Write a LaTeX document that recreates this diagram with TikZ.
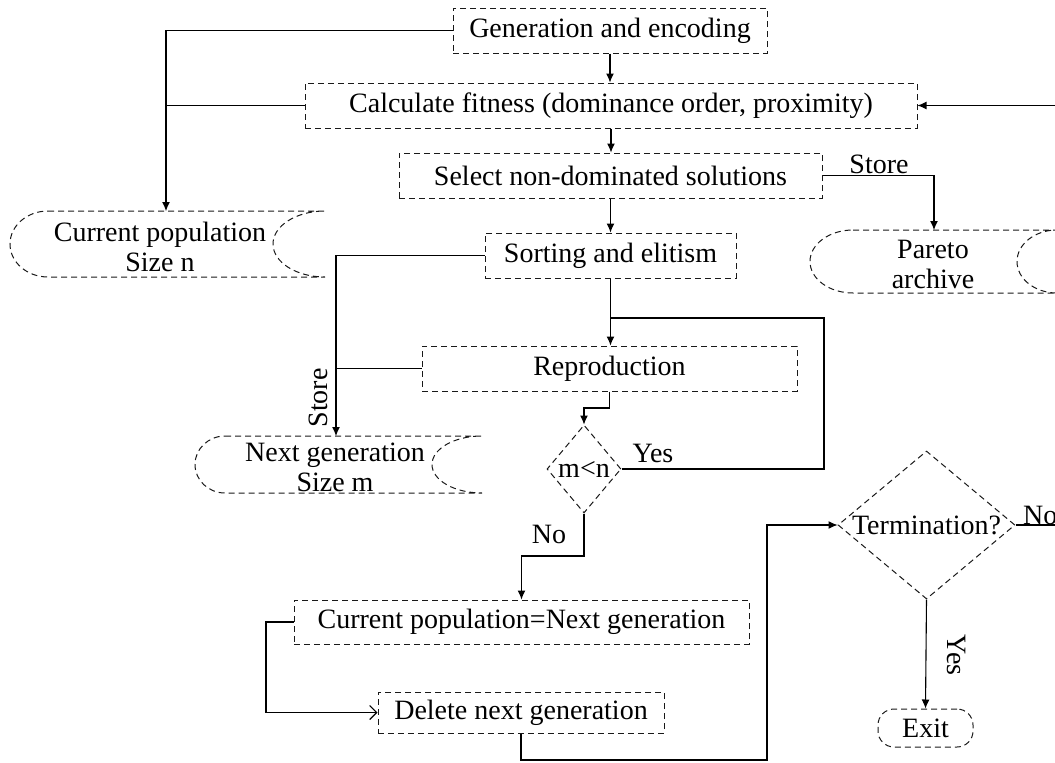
\documentclass[tikz,border=0pt]{standalone}
\usepackage{fontspec}
\setmainfont{Liberation Serif}
\usetikzlibrary{arrows.meta,shapes.geometric,calc}
\begin{document}
\begin{tikzpicture}[x=1pt,y=-1pt,
  font=\fontsize{28}{30}\selectfont,
  dsh/.style={draw=black!90, dash pattern=on 6pt off 4pt, line width=1pt},
  box/.style={dsh, rectangle, inner sep=0pt, minimum height=45pt},
  dia/.style={dsh, diamond, inner sep=0pt},
  sdata/.style={dsh},
  conn/.style={draw=black, line width=1.1pt},
  arr/.style={conn, -{Latex[length=9pt,width=8pt]}},
  oarr/.style={conn, -{Straight Barb[length=7pt,width=14pt]}},
  lbl/.style={inner sep=0pt}
]
\useasboundingbox (0,0) rectangle (1055,763);
\clip (0,0) rectangle (1055,763);

% process boxes
\node[box, minimum width=314pt] (gen) at (610,30.5) {Generation and encoding};
\node[box, minimum width=612pt] (calc) at (611,105.5) {Calculate fitness (dominance order, proximity)};
\node[box, minimum width=423pt] (sel) at (610.5,175.5) {Select non-dominated solutions};
\node[box, minimum width=251pt] (sort) at (610.5,255.5) {Sorting and elitism};
\node[box, minimum width=375pt] (rep) at (609.5,368.5) {Reproduction};
\node[box, minimum width=455pt, minimum height=44pt] (cpn) at (521.5,622) {Current population=Next generation};
\node[box, minimum width=286pt, minimum height=41pt] (del) at (521,712.5) {Delete next generation};
\node[box, rounded corners=16pt, minimum width=95pt, minimum height=38pt] (exit) at (925.5,728) {Exit};

% decisions
\node[dia, minimum width=74pt, minimum height=88pt, label={[lbl]center:m<n}] (mn) at (584,469) {};
\node[dia, minimum width=177pt, minimum height=148pt, label={[lbl]center:Termination?}] (term) at (926.5,525) {};

% stored data shapes
\draw[sdata] (48,211) -- (325,211) arc[start angle=90,end angle=270,x radius=52pt,y radius=33pt]
  -- (48,277) arc[start angle=270,end angle=90,x radius=38pt,y radius=33pt] -- cycle;
\node[align=center, lbl] (cur) at (160,247) {Current population\\Size n};
\coordinate (curtop) at (166,211);

\draw[sdata] (225,436) -- (482,436) arc[start angle=90,end angle=270,x radius=50pt,y radius=28.5pt]
  -- (225,493) arc[start angle=270,end angle=90,x radius=30pt,y radius=28.5pt] -- cycle;
\node[align=center, lbl] (next) at (335,467) {Next generation\\Size m};
\coordinate (nexttop) at (336,436);

\draw[sdata] (853,230) -- (1057,230) arc[start angle=90,end angle=270,x radius=40pt,y radius=31.5pt]
  -- (853,293) arc[start angle=270,end angle=90,x radius=43pt,y radius=31.5pt] -- cycle;
\node[align=center, lbl] (par) at (933,264) {Pareto\\archive};
\coordinate (partop) at (934,230);

% helper coordinates
\coordinate (loopc) at (824,318);
\coordinate (mnin) at (584,408);
\coordinate (nobend) at (521.5,556);
\coordinate (cpdl) at (266,667);
\coordinate (dbot) at (767,760);
\coordinate (rback) at (1085,300);

% connectors
\draw[arr] (gen.west) -| (curtop);
\draw[conn] (calc.west) -- (calc.west -| curtop);
\draw[arr] (gen.south) -- (gen.south |- calc.north);
\draw[arr] (calc.south) -- (calc.south |- sel.north);
\draw[arr] (sel.south) -- (sel.south |- sort.north);
\draw[arr] (sel.east) -| (partop);
\node[lbl, anchor=base] (storeA) at (879,173) {Store};
\draw[arr] (sort.south) -- (sort.south |- rep.north);
\draw[arr] (sort.west) -| (nexttop);
\draw[conn] (rep.west) -- (rep.west -| nexttop);
\node[lbl, rotate=90, anchor=base] (storeB) at (327,398) {Store};
\draw[arr] (rep.south) |- (mnin) -- (mn.north);
\draw[conn] (mn.east) -| (loopc) -- (loopc -| sort.south);
\node[lbl, anchor=base] (yesA) at (653,462) {Yes};
\draw[arr] (mn.south) |- (nobend) -- (cpn.north);
\node[lbl, anchor=base] (noA) at (549,543) {No};
\draw[oarr] (cpn.west) -| (cpdl) |- (del.west);
\draw[arr] (del.south) |- (dbot) |- (term.west);
\draw[arr] (term.east) -| (rback) |- (calc.east);
\node[lbl, anchor=base west] (noB) at (1023,524) {No};
\draw[arr] (term.south) -- (exit.north);
\node[lbl, rotate=-90, anchor=base] (yesB) at (947,655) {Yes};
\end{tikzpicture}
\end{document}
